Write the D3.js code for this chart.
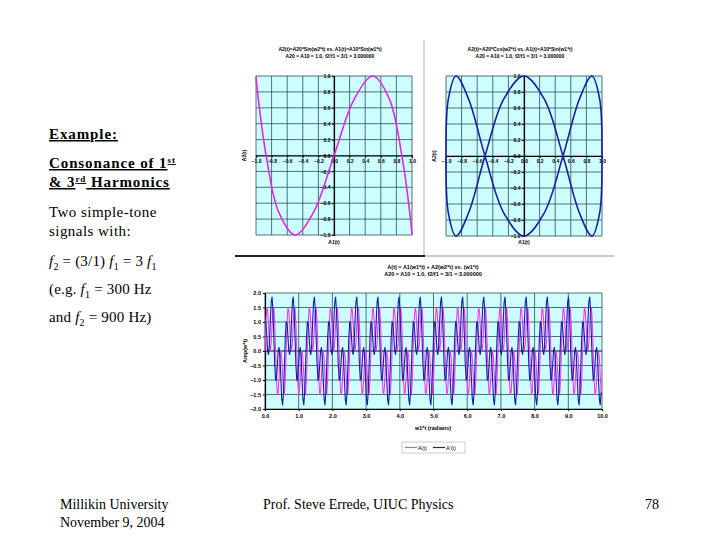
<!DOCTYPE html>
<html>
<head>
<meta charset="utf-8">
<script src="https://cdn.jsdelivr.net/npm/d3@7"></script>
<style>
body { margin: 0; background: #fff; }
svg { display: block; }
.tick text { font-family: "Liberation Sans", Arial, sans-serif; font-weight: bold; }
</style>
</head>
<body>
<svg id="slide" width="720" height="540"></svg>
<script>
// one turn of w1*t, sampled every 15 degrees
var a1 = [0,0.26,0.5,0.71,0.87,0.97,1,0.97,0.87,0.71,0.5,0.26,0,-0.26,-0.5,-0.71,-0.87,-0.97,-1,-0.97,-0.87,-0.71,-0.5,-0.26];
var a2Sin = [0,0.71,1,0.71,0,-0.71,-1,-0.71,0,0.71,1,0.71,0,-0.71,-1,-0.71,0,0.71,1,0.71,0,-0.71,-1,-0.71];
var a2Cos = [1,0.71,0,-0.71,-1,-0.71,0,0.71,1,0.71,0,-0.71,-1,-0.71,0,0.71,1,0.71,0,-0.71,-1,-0.71,0,0.71];

// summed signals along w1*t, one sample every sampleStep
var sampleStep = 0.02618;
var ampSin = [
0,0.97,1.5,1.41,0.87,0.26,0,0.26,0.87,1.41,1.5,0.97,0,-0.97,-1.5,-1.41,-0.87,-0.26,0,-0.26,-0.87,-1.41,-1.5,-0.97,
0,0.97,1.5,1.41,0.87,0.26,0,0.26,0.87,1.41,1.5,0.97,0,-0.97,-1.5,-1.41,-0.87,-0.26,0,-0.26,-0.87,-1.41,-1.5,-0.97,
0,0.97,1.5,1.41,0.87,0.26,0,0.26,0.87,1.41,1.5,0.97,0,-0.97,-1.5,-1.41,-0.87,-0.26,0,-0.26,-0.87,-1.41,-1.5,-0.97,
0,0.97,1.5,1.41,0.87,0.26,0,0.26,0.87,1.41,1.5,0.97,0,-0.97,-1.5,-1.41,-0.87,-0.26,0,-0.26,-0.87,-1.41,-1.5,-0.97,
0,0.97,1.5,1.41,0.87,0.26,0,0.26,0.87,1.41,1.5,0.97,0,-0.97,-1.5,-1.41,-0.87,-0.26,0,-0.26,-0.87,-1.41,-1.5,-0.97,
0,0.97,1.5,1.41,0.87,0.26,0,0.26,0.87,1.41,1.5,0.97,0,-0.97,-1.5,-1.41,-0.87,-0.26,0,-0.26,-0.87,-1.41,-1.5,-0.97,
0,0.97,1.5,1.41,0.87,0.26,0,0.26,0.87,1.41,1.5,0.97,0,-0.97,-1.5,-1.41,-0.87,-0.26,0,-0.26,-0.87,-1.41,-1.5,-0.97,
0,0.97,1.5,1.41,0.87,0.26,0,0.26,0.87,1.41,1.5,0.97,0,-0.97,-1.5,-1.41,-0.87,-0.26,0,-0.26,-0.87,-1.41,-1.5,-0.97,
0,0.97,1.5,1.41,0.87,0.26,0,0.26,0.87,1.41,1.5,0.97,0,-0.97,-1.5,-1.41,-0.87,-0.26,0,-0.26,-0.87,-1.41,-1.5,-0.97,
0,0.97,1.5,1.41,0.87,0.26,0,0.26,0.87,1.41,1.5,0.97,0,-0.97,-1.5,-1.41,-0.87,-0.26,0,-0.26,-0.87,-1.41,-1.5,-0.97,
0,0.97,1.5,1.41,0.87,0.26,0,0.26,0.87,1.41,1.5,0.97,0,-0.97,-1.5,-1.41,-0.87,-0.26,0,-0.26,-0.87,-1.41,-1.5,-0.97,
0,0.97,1.5,1.41,0.87,0.26,0,0.26,0.87,1.41,1.5,0.97,0,-0.97,-1.5,-1.41,-0.87,-0.26,0,-0.26,-0.87,-1.41,-1.5,-0.97,
0,0.97,1.5,1.41,0.87,0.26,0,0.26,0.87,1.41,1.5,0.97,0,-0.97,-1.5,-1.41,-0.87,-0.26,0,-0.26,-0.87,-1.41,-1.5,-0.97,
0,0.97,1.5,1.41,0.87,0.26,0,0.26,0.87,1.41,1.5,0.97,0,-0.97,-1.5,-1.41,-0.87,-0.26,0,-0.26,-0.87,-1.41,-1.5,-0.97,
0,0.97,1.5,1.41,0.87,0.26,0,0.26,0.87,1.41,1.5,0.97,0,-0.97,-1.5,-1.41,-0.87,-0.26,0,-0.26,-0.87,-1.41,-1.5,-0.97,
0,0.97,1.5,1.41,0.87,0.26,0,0.26,0.87,1.41,1.5,0.97,0,-0.97,-1.5,-1.41,-0.87,-0.26,0,-0.26,-0.87,-1.41
];
var ampCos = [
1,0.97,0.5,0,-0.13,0.26,1,1.67,1.87,1.41,0.5,-0.45,-1,-0.97,-0.5,0,0.13,-0.26,-1,-1.67,-1.87,-1.41,-0.5,0.45,
1,0.97,0.5,0,-0.13,0.26,1,1.67,1.87,1.41,0.5,-0.45,-1,-0.97,-0.5,0,0.13,-0.26,-1,-1.67,-1.87,-1.41,-0.5,0.45,
1,0.97,0.5,0,-0.13,0.26,1,1.67,1.87,1.41,0.5,-0.45,-1,-0.97,-0.5,0,0.13,-0.26,-1,-1.67,-1.87,-1.41,-0.5,0.45,
1,0.97,0.5,0,-0.13,0.26,1,1.67,1.87,1.41,0.5,-0.45,-1,-0.97,-0.5,0,0.13,-0.26,-1,-1.67,-1.87,-1.41,-0.5,0.45,
1,0.97,0.5,0,-0.13,0.26,1,1.67,1.87,1.41,0.5,-0.45,-1,-0.97,-0.5,0,0.13,-0.26,-1,-1.67,-1.87,-1.41,-0.5,0.45,
1,0.97,0.5,0,-0.13,0.26,1,1.67,1.87,1.41,0.5,-0.45,-1,-0.97,-0.5,0,0.13,-0.26,-1,-1.67,-1.87,-1.41,-0.5,0.45,
1,0.97,0.5,0,-0.13,0.26,1,1.67,1.87,1.41,0.5,-0.45,-1,-0.97,-0.5,0,0.13,-0.26,-1,-1.67,-1.87,-1.41,-0.5,0.45,
1,0.97,0.5,0,-0.13,0.26,1,1.67,1.87,1.41,0.5,-0.45,-1,-0.97,-0.5,0,0.13,-0.26,-1,-1.67,-1.87,-1.41,-0.5,0.45,
1,0.97,0.5,0,-0.13,0.26,1,1.67,1.87,1.41,0.5,-0.45,-1,-0.97,-0.5,0,0.13,-0.26,-1,-1.67,-1.87,-1.41,-0.5,0.45,
1,0.97,0.5,0,-0.13,0.26,1,1.67,1.87,1.41,0.5,-0.45,-1,-0.97,-0.5,0,0.13,-0.26,-1,-1.67,-1.87,-1.41,-0.5,0.45,
1,0.97,0.5,0,-0.13,0.26,1,1.67,1.87,1.41,0.5,-0.45,-1,-0.97,-0.5,0,0.13,-0.26,-1,-1.67,-1.87,-1.41,-0.5,0.45,
1,0.97,0.5,0,-0.13,0.26,1,1.67,1.87,1.41,0.5,-0.45,-1,-0.97,-0.5,0,0.13,-0.26,-1,-1.67,-1.87,-1.41,-0.5,0.45,
1,0.97,0.5,0,-0.13,0.26,1,1.67,1.87,1.41,0.5,-0.45,-1,-0.97,-0.5,0,0.13,-0.26,-1,-1.67,-1.87,-1.41,-0.5,0.45,
1,0.97,0.5,0,-0.13,0.26,1,1.67,1.87,1.41,0.5,-0.45,-1,-0.97,-0.5,0,0.13,-0.26,-1,-1.67,-1.87,-1.41,-0.5,0.45,
1,0.97,0.5,0,-0.13,0.26,1,1.67,1.87,1.41,0.5,-0.45,-1,-0.97,-0.5,0,0.13,-0.26,-1,-1.67,-1.87,-1.41,-0.5,0.45,
1,0.97,0.5,0,-0.13,0.26,1,1.67,1.87,1.41,0.5,-0.45,-1,-0.97,-0.5,0,0.13,-0.26,-1,-1.67,-1.87,-1.41
];

var lissTicks = [-1,-0.8,-0.6,-0.4,-0.2,0,0.2,0.4,0.6,0.8,1];
var timeTicks = [0,1,2,3,4,5,6,7,8,9,10];
var ampTicks = [-2,-1.5,-1,-0.5,0,0.5,1,1.5,2];

var pink = "#e428e4";
var navy = "#1c1ca4";
var plotBg = "#ccffff";
var gridColor = "#2c4c4c";
var fmt = d3.format(".1f");

var svg = d3.select("#slide");
svg.append("rect").attr("width", 720).attr("height", 540).attr("fill", "#fff");

function smallText(g, x, y, txt, size) {
    return g.append("text")
        .attr("x", x).attr("y", y)
        .attr("text-anchor", "middle")
        .style("font-family", "Liberation Sans, Arial, sans-serif")
        .style("font-weight", "bold")
        .style("font-size", size + "px")
        .text(txt);
}

function lissajous(box, ys, color, title1, title2) {
    var g = svg.append("g");
    var x = d3.scaleLinear().domain([-1, 1]).range([box.left, box.right]);
    var y = d3.scaleLinear().domain([-1, 1]).range([box.bottom, box.top]);

    g.append("rect")
        .attr("x", box.left).attr("y", box.top)
        .attr("width", box.right - box.left).attr("height", box.bottom - box.top)
        .attr("fill", plotBg);

    g.selectAll(".vg").data(lissTicks).enter().append("line")
        .attr("x1", d => x(d)).attr("x2", d => x(d))
        .attr("y1", box.top).attr("y2", box.bottom)
        .attr("stroke", gridColor).attr("stroke-width", 0.8);
    g.selectAll(".hg").data(lissTicks).enter().append("line")
        .attr("y1", d => y(d)).attr("y2", d => y(d))
        .attr("x1", box.left).attr("x2", box.right)
        .attr("stroke", gridColor).attr("stroke-width", 0.8);

    var xAxis = g.append("g")
        .attr("transform", "translate(0," + y(0) + ")")
        .call(d3.axisBottom(x).tickValues(lissTicks).tickFormat(fmt).tickSize(2).tickPadding(1.5));
    var yAxis = g.append("g")
        .attr("transform", "translate(" + x(0) + ",0)")
        .call(d3.axisLeft(y).tickValues(lissTicks).tickFormat(fmt).tickSize(2).tickPadding(1.5));
    [xAxis, yAxis].forEach(function(a) {
        a.selectAll("text").style("font-size", "5px");
        a.select(".domain").attr("stroke", "#000").attr("stroke-width", 1.2);
    });

    var pts = a1.map(function(v, i) { return [v, ys[i]]; });
    var line = d3.line()
        .x(d => x(d[0]))
        .y(d => y(d[1]))
        .curve(d3.curveCatmullRomClosed.alpha(0.5));
    g.append("path")
        .attr("d", line(pts))
        .attr("fill", "none")
        .attr("stroke", color)
        .attr("stroke-width", 1.6);

    var cx = (box.left + box.right) / 2 - 4;
    smallText(g, cx, 51, title1, 5);
    smallText(g, cx, 58, title2, 5);
    smallText(g, (box.left + box.right) / 2, 244, "A1(t)", 5);
    smallText(g, 0, 0, "A2(t)", 5)
        .attr("transform", "translate(" + (box.left - 10) + "," + y(0) + ") rotate(-90)");
}

lissajous({left: 256, right: 412, top: 76, bottom: 235}, a2Sin, pink,
    "A2(t)=A20*Sin(w2*t) vs. A1(t)=A10*Sin(w1*t)",
    "A20 = A10 = 1.0, f2/f1 = 3/1 = 3.000000");
lissajous({left: 446, right: 602, top: 76, bottom: 236}, a2Cos, navy,
    "A2(t)=A20*Cos(w2*t) vs. A1(t)=A10*Sin(w1*t)",
    "A20 = A10 = 1.0, f2/f1 = 3/1 = 3.000000");

// frame lines between the pasted charts
svg.append("line").attr("x1", 424).attr("x2", 424).attr("y1", 40).attr("y2", 256)
    .attr("stroke", "#c8c8c8").attr("stroke-width", 1.5);
svg.append("line").attr("x1", 235).attr("x2", 425).attr("y1", 256).attr("y2", 256)
    .attr("stroke", "#222").attr("stroke-width", 2);
svg.append("line").attr("x1", 425).attr("x2", 614).attr("y1", 256).attr("y2", 256)
    .attr("stroke", "#b8b8b8").attr("stroke-width", 1.5);

// time plot
(function() {
    var box = {left: 265, right: 602, top: 293, bottom: 409};
    var g = svg.append("g");
    var x = d3.scaleLinear().domain([0, 10]).range([box.left, box.right]);
    var y = d3.scaleLinear().domain([-2, 2]).range([box.bottom, box.top]);

    g.append("rect")
        .attr("x", box.left).attr("y", box.top)
        .attr("width", box.right - box.left).attr("height", box.bottom - box.top)
        .attr("fill", plotBg);
    g.selectAll(".vg").data(timeTicks).enter().append("line")
        .attr("x1", d => x(d)).attr("x2", d => x(d))
        .attr("y1", box.top).attr("y2", box.bottom)
        .attr("stroke", gridColor).attr("stroke-width", 0.8);
    g.selectAll(".hg").data(ampTicks).enter().append("line")
        .attr("y1", d => y(d)).attr("y2", d => y(d))
        .attr("x1", box.left).attr("x2", box.right)
        .attr("stroke", d => d === 0 ? "#000" : gridColor)
        .attr("stroke-width", d => d === 0 ? 1.2 : 0.8);

    var xAxis = g.append("g")
        .attr("transform", "translate(0," + box.bottom + ")")
        .call(d3.axisBottom(x).tickValues(timeTicks).tickFormat(fmt).tickSize(2).tickPadding(3));
    var yAxis = g.append("g")
        .attr("transform", "translate(" + box.left + ",0)")
        .call(d3.axisLeft(y).tickValues(ampTicks).tickFormat(fmt).tickSize(2).tickPadding(2));
    [xAxis, yAxis].forEach(function(a) {
        a.selectAll("text").style("font-size", "5.5px");
        a.select(".domain").attr("stroke", "#000").attr("stroke-width", 1.2);
    });

    var line = d3.line()
        .x((d, i) => x(i * sampleStep))
        .y(d => y(d));
    g.append("path").attr("d", line(ampSin))
        .attr("fill", "none").attr("stroke", "#ff33ff").attr("stroke-width", 1.1);
    g.append("path").attr("d", line(ampCos))
        .attr("fill", "none").attr("stroke", navy).attr("stroke-width", 1.1);

    smallText(g, 433, 269, "A(t) = A1(w1*t) + A2(w2*t) vs. (w1*t)", 5.5);
    smallText(g, 433, 276, "A20 = A10 = 1.0, f2/f1 = 3/1 = 3.000000", 5.5);
    smallText(g, 433, 430, "w1*t (radians)", 5.5);
    smallText(g, 0, 0, "Amp(w*t)", 5.5)
        .attr("transform", "translate(247," + y(0) + ") rotate(-90)");

    var lg = g.append("g").attr("transform", "translate(402,442)");
    lg.append("rect").attr("width", 63).attr("height", 11)
        .attr("fill", "#fff").attr("stroke", "#999").attr("stroke-width", 0.5);
    lg.append("line").attr("x1", 3).attr("x2", 15).attr("y1", 5.5).attr("y2", 5.5)
        .attr("stroke", "#ff33ff").attr("stroke-width", 1.2);
    lg.append("text").attr("x", 16).attr("y", 7.5).text("A(t)")
        .style("font-family", "Liberation Sans, Arial, sans-serif").style("font-size", "5.5px");
    lg.append("line").attr("x1", 31).attr("x2", 43).attr("y1", 5.5).attr("y2", 5.5)
        .attr("stroke", navy).attr("stroke-width", 1.2);
    lg.append("text").attr("x", 44).attr("y", 7.5).text("A'(t)")
        .style("font-family", "Liberation Sans, Arial, sans-serif").style("font-size", "5.5px");
})();

// slide text
var serif = "Liberation Serif, Times New Roman, serif";
function slideLine(x, y, size) {
    return svg.append("text").attr("x", x).attr("y", y)
        .style("font-family", serif).style("font-size", size + "px").attr("fill", "#000");
}
function boldLine(x, y) {
    return slideLine(x, y, 15).style("font-weight", "bold")
        .style("text-decoration", "underline").style("letter-spacing", "0.9px");
}

boldLine(49, 139).text("Example:");

var t1 = boldLine(49, 168);
t1.append("tspan").text("Consonance of 1");
t1.append("tspan").attr("dy", -5).style("font-size", "9px").text("st");
var t2 = boldLine(49, 187);
t2.append("tspan").text("& 3");
t2.append("tspan").attr("dy", -5).style("font-size", "9px").text("rd");
t2.append("tspan").attr("dy", 5).text(" Harmonics");

slideLine(49, 217, 15).style("letter-spacing", "0.45px").text("Two simple-tone");
slideLine(49, 236, 15).style("letter-spacing", "0.45px").text("signals with:");

function fSub(t, n) {
    t.append("tspan").style("font-style", "italic").text("f");
    t.append("tspan").attr("dy", 4).style("font-size", "10px").text(n);
}
var t3 = slideLine(49, 266, 15).style("letter-spacing", "0.2px");
fSub(t3, "2");
t3.append("tspan").attr("dy", -4).text(" = (3/1) ");
fSub(t3, "1");
t3.append("tspan").attr("dy", -4).text(" = 3 ");
fSub(t3, "1");

var t4 = slideLine(49, 294, 15).style("letter-spacing", "0.2px");
t4.append("tspan").text("(e.g. ");
fSub(t4, "1");
t4.append("tspan").attr("dy", -4).text(" = 300 Hz");

var t5 = slideLine(49, 322, 15).style("letter-spacing", "0.2px");
t5.append("tspan").text("and  ");
fSub(t5, "2");
t5.append("tspan").attr("dy", -4).text(" = 900 Hz)");

slideLine(60, 509, 14).text("Millikin University");
slideLine(60, 527, 14).text("November 9, 2004");
slideLine(263, 509, 14).text("Prof. Steve Errede, UIUC Physics");
slideLine(645, 509, 14).text("78");
</script>
</body>
</html>
